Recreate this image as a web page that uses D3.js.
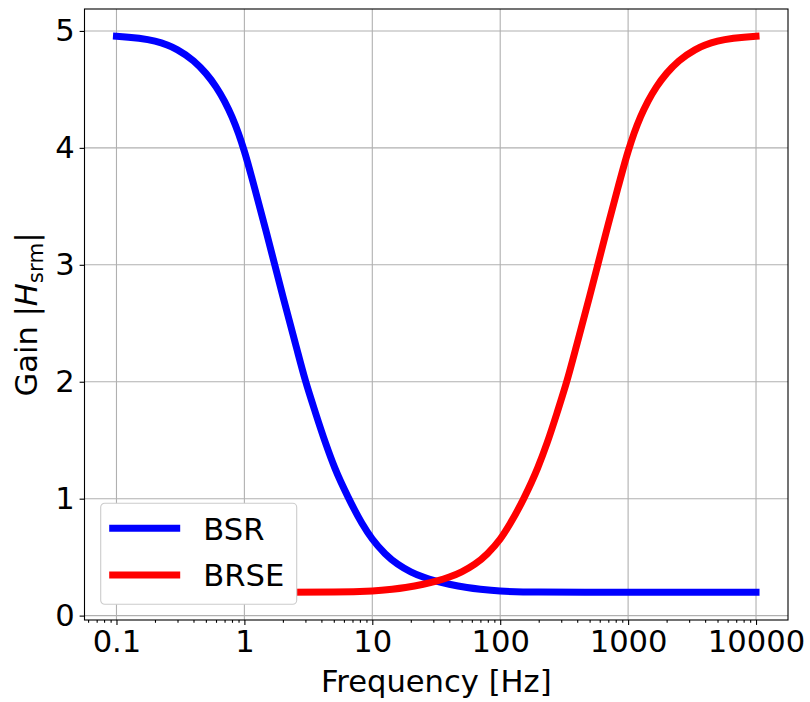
<!DOCTYPE html>
<html>
<head>
<meta charset="utf-8">
<script src="https://cdn.jsdelivr.net/npm/d3@7"></script>
<style>
  body { margin: 0; background: #fff; }
  svg { display: block; font-family: "DejaVu Sans", sans-serif; }
</style>
</head>
<body>
<div id="chart"></div>
<script>
"use strict";

// values
var bsrFreq = [0.1, 0.2, 0.3, 0.4, 0.5, 0.6, 0.7, 0.8, 0.9, 1, 1.2, 1.5, 2, 2.5, 3, 3.6, 4.3, 5.1, 6.5, 8.3, 10, 12.6, 15.8, 20, 25, 31.6, 40, 55, 70, 100, 200, 1000, 10000];
var bsrGain = [4.954, 4.912, 4.838, 4.744, 4.637, 4.522, 4.398, 4.265, 4.122, 3.97, 3.66, 3.26, 2.73, 2.33, 2.01, 1.733, 1.479, 1.261, 1.009, 0.79, 0.655, 0.53, 0.44, 0.375, 0.33, 0.295, 0.268, 0.24, 0.225, 0.21, 0.201, 0.2, 0.2];

var brseFreq = [0.1, 1, 5, 10, 14.3, 18.2, 25, 31.6, 40, 50, 63.3, 79.4, 100, 120, 154, 196, 233, 278, 333, 400, 500, 667, 833, 1000, 1111, 1250, 1429, 1667, 2000, 2500, 3333, 5000, 10000];
var brseGain = [0.2, 0.2, 0.201, 0.21, 0.225, 0.24, 0.268, 0.295, 0.33, 0.375, 0.44, 0.53, 0.655, 0.79, 1.009, 1.261, 1.479, 1.733, 2.01, 2.33, 2.73, 3.26, 3.66, 3.97, 4.122, 4.265, 4.398, 4.522, 4.637, 4.744, 4.838, 4.912, 4.954];

var seriesNames = ["BSR", "BRSE"];
var seriesColors = ["#0000ff", "#ff0000"];

var xTicks = [0.1, 1, 10, 100, 1000, 10000];
var xTickLabels = ["0.1", "1", "10", "100", "1000", "10000"];
var yTicks = [0, 1, 2, 3, 4, 5];

draw(document.getElementById("chart"));

function draw(element) {
  var W = 810, H = 702;
  var margin = { top: 9, right: 22, bottom: 82, left: 84.5 },
    width = W - margin.left - margin.right,
    height = H - margin.top - margin.bottom;
  var fontSize = 30.6;

  var x = d3.scaleLog().domain([Math.pow(10, -1.25), Math.pow(10, 4.25)]).range([0, width]);
  var y = d3.scaleLinear().domain([-0.0375, 5.1875]).range([height, 0]);

  var svg = d3
    .select(element)
    .append("svg")
    .attr("width", W)
    .attr("height", H)
    .append("g")
    .attr("transform", "translate(" + margin.left + "," + margin.top + ")");

  // grid
  svg
    .selectAll(".xgrid")
    .data(xTicks)
    .enter()
    .append("line")
    .attr("x1", function(d) { return x(d); })
    .attr("x2", function(d) { return x(d); })
    .attr("y1", 0)
    .attr("y2", height)
    .style("stroke", "#b0b0b0")
    .style("stroke-width", 1.1);

  svg
    .selectAll(".ygrid")
    .data(yTicks)
    .enter()
    .append("line")
    .attr("x1", 0)
    .attr("x2", width)
    .attr("y1", function(d) { return y(d); })
    .attr("y2", function(d) { return y(d); })
    .style("stroke", "#b0b0b0")
    .style("stroke-width", 1.1);

  // curves
  var series = [
    { freq: bsrFreq, gain: bsrGain },
    { freq: brseFreq, gain: brseGain }
  ];

  var line = d3
    .line()
    .x(function(d) { return x(d[0]); })
    .y(function(d) { return y(d[1]); })
    .curve(d3.curveMonotoneX);

  series.forEach(function(s, i) {
    var pts = s.freq.map(function(f, j) { return [f, s.gain[j]]; });
    svg
      .append("path")
      .datum(pts)
      .attr("d", line)
      .style("fill", "none")
      .style("stroke", seriesColors[i])
      .style("stroke-width", 7)
      .style("stroke-linecap", "square")
      .style("stroke-linejoin", "round");
  });

  // axes
  var minor = [];
  for (var e = -2; e <= 4; e++) {
    for (var m = 2; m <= 9; m++) {
      var v = m * Math.pow(10, e);
      if (v >= x.domain()[0] && v <= x.domain()[1]) minor.push(v);
    }
  }

  var xAxis = svg
    .append("g")
    .attr("transform", "translate(0," + height + ")")
    .call(
      d3.axisBottom(x)
        .tickValues(xTicks)
        .tickFormat(function(d, i) { return xTickLabels[i]; })
        .tickSize(4.9)
        .tickPadding(4.9)
    );

  svg
    .append("g")
    .attr("transform", "translate(0," + height + ")")
    .call(d3.axisBottom(x).tickValues(minor).tickFormat("").tickSize(2.8))
    .call(function(g) { g.select(".domain").remove(); });

  var yAxis = svg
    .append("g")
    .call(d3.axisLeft(y).tickValues(yTicks).tickFormat(d3.format("d")).tickSize(4.9).tickPadding(4.9));

  svg.selectAll(".tick line").style("stroke", "#000").style("stroke-width", 1.1);
  svg.selectAll(".tick text")
    .style("font-family", "DejaVu Sans")
    .style("font-size", fontSize + "px")
    .style("fill", "#000");
  xAxis.select(".domain").remove();
  yAxis.select(".domain").remove();

  // frame
  svg
    .append("rect")
    .attr("width", width)
    .attr("height", height)
    .style("fill", "none")
    .style("stroke", "#000")
    .style("stroke-width", 1.1);

  // axis labels
  svg
    .append("text")
    .attr("x", width / 2)
    .attr("y", height + 72)
    .attr("text-anchor", "middle")
    .style("font-size", fontSize + "px")
    .text("Frequency [Hz]");

  var yl = svg
    .append("text")
    .attr("transform", "translate(" + (37 - margin.left) + "," + height / 2 + ") rotate(-90)")
    .attr("text-anchor", "middle")
    .style("font-size", fontSize + "px");
  yl.append("tspan").text("Gain |");
  yl.append("tspan").style("font-style", "italic").text("H");
  yl.append("tspan").style("font-size", (fontSize * 0.7) + "px").attr("dy", 6).text("srm");
  yl.append("tspan").attr("dy", -6).text("|");

  // legend
  var lx = 100.7 - margin.left, ly = 503.3 - margin.top;
  var legend = svg.append("g").attr("transform", "translate(" + lx + "," + ly + ")");
  legend
    .append("rect")
    .attr("width", 196)
    .attr("height", 101)
    .attr("rx", 4)
    .style("fill", "#fff")
    .style("stroke", "#cccccc")
    .style("stroke-width", 1.1);

  seriesNames.forEach(function(name, i) {
    var cy = 25 + i * 46.7;
    legend
      .append("line")
      .attr("x1", 12)
      .attr("x2", 76)
      .attr("y1", cy)
      .attr("y2", cy)
      .style("stroke", seriesColors[i])
      .style("stroke-width", 7)
      .style("stroke-linecap", "square");
    legend
      .append("text")
      .attr("x", 102.6)
      .attr("y", cy + 11.4)
      .style("font-size", fontSize + "px")
      .text(name);
  });
}
</script>
</body>
</html>
